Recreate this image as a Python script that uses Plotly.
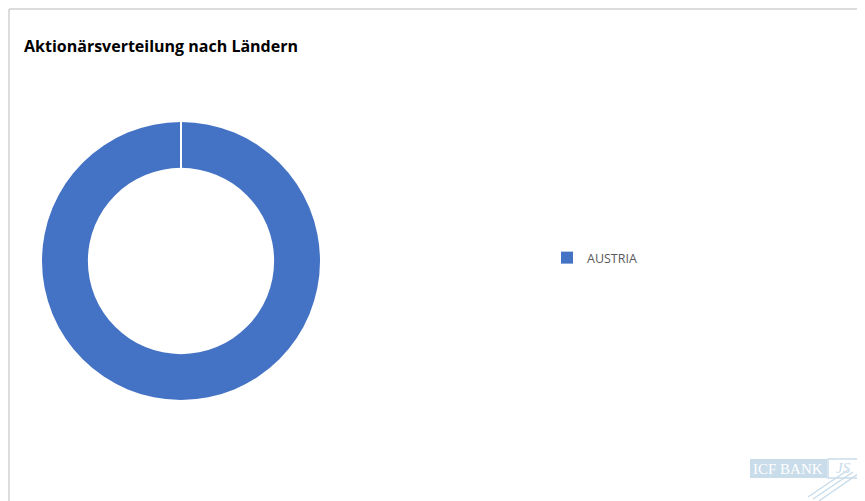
import plotly.graph_objects as go

W, H = 865, 501
OFF = 8  # page body margin

labels = ["AUSTRIA"]
values = [100]
colors = ["#4472C4"]
title_text = "Aktionärsverteilung nach Ländern"

def px(x):
    return (x - OFF) / W

def py(y):
    return 1 - (y - OFF) / H

fig = go.Figure()
fig.add_trace(go.Pie(
    labels=labels, values=values, hole=0.67, sort=False, direction="clockwise",
    rotation=0, marker=dict(colors=colors, line=dict(width=0)),
    textinfo="none", hoverinfo="label+percent",
    domain=dict(x=[px(42), px(320)], y=[py(400), py(122)]),
    showlegend=True,
))

logo = "#C9DCEA"
shapes = [
    # chart border
    dict(type="line", xref="paper", yref="paper", x0=px(9), x1=1.05, y0=py(9), y1=py(9),
         line=dict(color="#D0D0D0", width=1.5)),
    dict(type="line", xref="paper", yref="paper", x0=px(9), x1=px(9), y0=py(9), y1=-0.05,
         line=dict(color="#D0D0D0", width=1.5)),
    # slice separator
    dict(type="line", xref="paper", yref="paper", x0=px(181), x1=px(181), y0=py(121), y1=py(169),
         line=dict(color="white", width=2)),
    # logo
    dict(type="rect", xref="paper", yref="paper", x0=px(750), x1=px(827), y0=py(478), y1=py(459),
         fillcolor=logo, line=dict(width=0)),
    dict(type="rect", xref="paper", yref="paper", x0=px(828), x1=px(859), y0=py(478), y1=py(459),
         fillcolor="rgba(0,0,0,0)", line=dict(color=logo, width=1.5)),
    dict(type="line", xref="paper", yref="paper", x0=px(808), x1=px(848), y0=py(497), y1=py(470),
         line=dict(color=logo, width=1.5)),
    dict(type="line", xref="paper", yref="paper", x0=px(813), x1=px(853), y0=py(499), y1=py(472),
         line=dict(color=logo, width=1.5)),
    dict(type="line", xref="paper", yref="paper", x0=px(819), x1=px(858), y0=py(501), y1=py(474),
         line=dict(color=logo, width=1.5)),
]

annotations = [
    dict(text="<b>" + title_text + "</b>", xref="paper", yref="paper", x=px(22), y=py(46),
         xanchor="left", yanchor="middle", showarrow=False,
         font=dict(family="Open Sans", size=16, color="#000000")),
    dict(text="ICF BANK", xref="paper", yref="paper", x=px(788), y=py(469),
         xanchor="center", yanchor="middle", showarrow=False,
         font=dict(family="Liberation Serif", size=15, color="#FFFFFF")),
    dict(text="<i>JS</i>", xref="paper", yref="paper", x=px(843), y=py(468),
         xanchor="center", yanchor="middle", showarrow=False,
         font=dict(family="Liberation Serif", size=15, color=logo)),
]

fig.update_layout(
    width=W, height=H,
    margin=dict(l=0, r=0, t=0, b=0),
    paper_bgcolor="white", plot_bgcolor="white",
    shapes=shapes, annotations=annotations,
    legend=dict(x=px(547), y=py(258), xanchor="left", yanchor="middle",
                font=dict(family="Open Sans", size=12.5, color="#595959"),
                itemwidth=30, bgcolor="rgba(0,0,0,0)"),
)

fig.write_html("out.html")
